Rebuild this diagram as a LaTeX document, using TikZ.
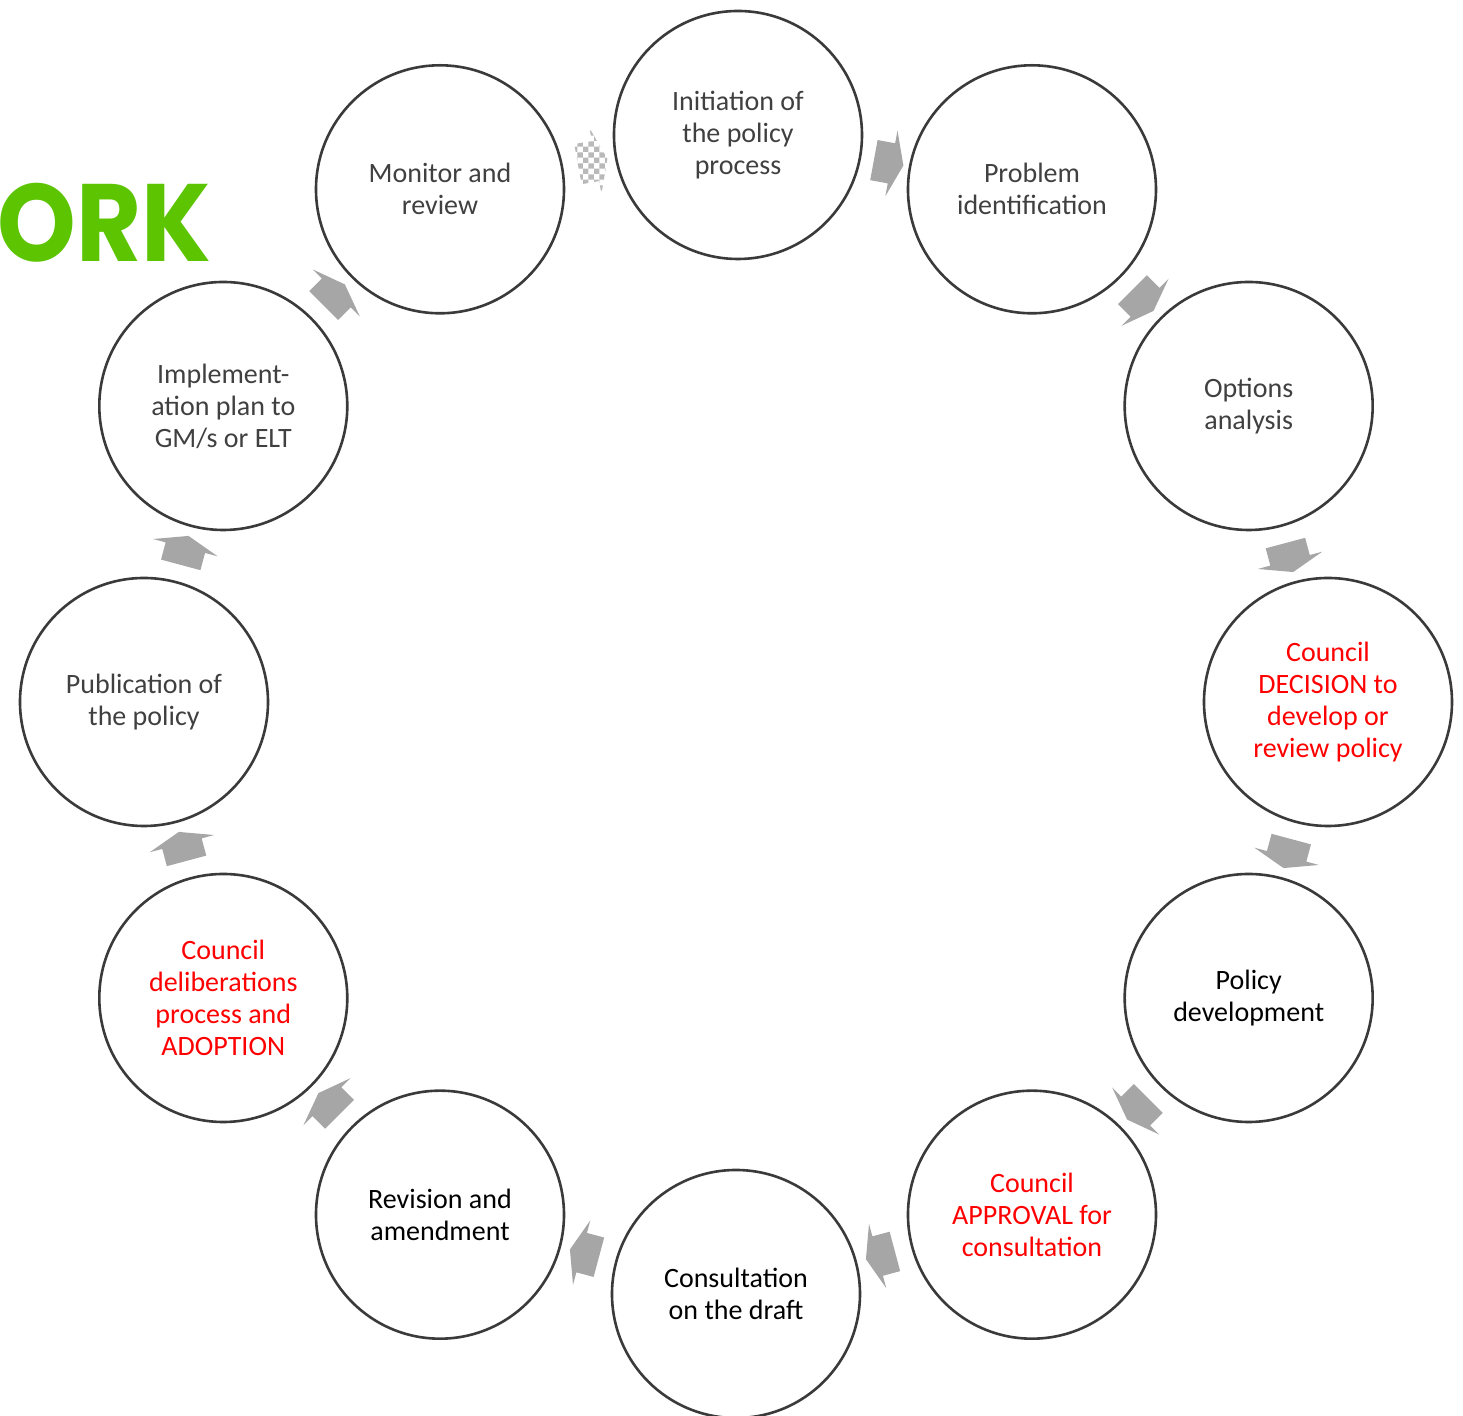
\documentclass[tikz,border=0pt]{standalone}
\usepackage{fontspec}
\setmainfont{Carlito}
\newfontfamily\logofont{Poppins}
\usetikzlibrary{positioning, shapes.arrows, patterns.meta}

\definecolor{ringline}{HTML}{3A3A3A}
\definecolor{textgray}{HTML}{404040}
\definecolor{arrowgray}{HTML}{A6A6A6}
\definecolor{leafgreen}{HTML}{5CC400}

% small checks for the faded arrow
\tikzdeclarepattern{name=finechecks, type=uncolored,
  bounding box={(0,0) and (5.4pt,5.4pt)}, tile size={(5.4pt,5.4pt)},
  code={\fill (0,0) rectangle (2.7pt,2.7pt); \fill (2.7pt,2.7pt) rectangle (5.4pt,5.4pt);}}

\begin{document}
\begin{tikzpicture}[
    x=0.5pt, y=0.5pt,
    stage/.style={circle, draw=ringline, line width=1.3pt, minimum size=124pt, inner sep=0pt, align=center, font=\fontsize{14}{16}\selectfont},
    muted/.style={text=textgray},
    council/.style={text=red},
    arrowbody/.style={single arrow, sloped, allow upside down, inner xsep=0pt, inner ysep=10pt, minimum height=15pt, single arrow head extend=6.5pt, single arrow tip angle=140},
    flow/.style={arrowbody, fill=arrowgray},
    faded/.style={arrowbody, pattern=finechecks, pattern color=gray!55}
  ]
  \useasboundingbox (-736,-714) rectangle (727,702);

  % title fragment at the left edge
  \node[anchor=base west, inner sep=0pt, xscale=0.91, transform shape, text=leafgreen, font=\logofont\bfseries\fontsize{55}{55}\selectfont] (title) at (-739,440) {ORK};

  % the twelve stages, clockwise from the top
  \node[stage, muted] (init) at (2,567) {Initiation of\\the policy\\process};
  \node[stage, muted] (problem) at (60:592) {Problem\\identification};
  \node[stage, muted] (options) at (30:592) {Options\\analysis};
  \node[stage, council] (decision) at (0:592) {Council\\DECISION to\\develop or\\review policy};
  \node[stage] (develop) at (-30:592) {Policy\\development};
  \node[stage, council] (approval) at (-60:592) {Council\\APPROVAL for\\consultation};
  \node[stage] (consult) at (-90:592) {Consultation\\on the draft};
  \node[stage] (revise) at (-120:592) {Revision and\\amendment};
  \node[stage, council] (adopt) at (-150:592) {Council\\deliberations\\process and\\ADOPTION};
  \node[stage, muted] (publish) at (180:592) {Publication of\\the policy};
  \node[stage, muted] (implement) at (150:592) {Implement-\\ation plan to\\GM/s or ELT};
  \node[stage, muted] (monitor) at (120:592) {Monitor and\\review};

  % arrows between neighbouring stages
  \path (init) -- node[flow] {} (problem);
  \path (problem) -- node[flow] {} (options);
  \path (options) -- node[flow] {} (decision);
  \path (decision) -- node[flow] {} (develop);
  \path (develop) -- node[flow] {} (approval);
  \path (approval) -- node[flow] {} (consult);
  \path (consult) -- node[flow] {} (revise);
  \path (revise) -- node[flow] {} (adopt);
  \path (adopt) -- node[flow] {} (publish);
  \path (publish) -- node[flow] {} (implement);
  \path (implement) -- node[flow] {} (monitor);
  \path (monitor) -- node[faded] {} (init);

\end{tikzpicture}
\end{document}
